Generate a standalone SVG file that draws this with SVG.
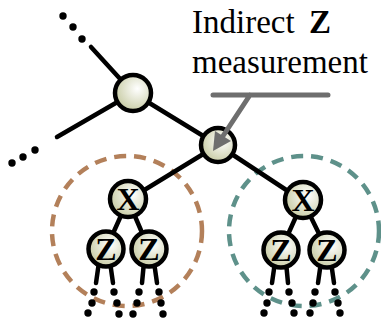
<svg xmlns="http://www.w3.org/2000/svg" width="381" height="325" viewBox="0 0 381 325">
<defs>
<radialGradient id="g" cx="0.62" cy="0.38" r="0.7">
<stop offset="0" stop-color="#ffffff"/>
<stop offset="1" stop-color="#c4c89e"/>
</radialGradient>
<style>
.e{stroke:#000;stroke-width:4.5;fill:none;stroke-linecap:round}
.n{fill:url(#g);stroke:#000;stroke-width:4.5}
.d{fill:#000}
.l{font-family:"Liberation Serif","Times New Roman",serif;font-weight:bold;font-size:32px;text-anchor:middle}
.t{font-family:"Liberation Serif","Times New Roman",serif;font-size:33px}
</style>
</defs>
<rect width="381" height="325" fill="#fff"/>
<g id="groups">
<circle cx="127" cy="231" r="75" fill="none" stroke="#b3805a" stroke-width="4.5" stroke-dasharray="12 8"/>
<circle cx="304" cy="231" r="75" fill="none" stroke="#5e918a" stroke-width="4.5" stroke-dasharray="12 8"/>
</g>
<g id="connectors">
<line class="e" x1="91" y1="47" x2="133" y2="93"/>
<line class="e" x1="57" y1="137" x2="133" y2="93"/>
<line class="e" x1="133" y1="93" x2="218" y2="145"/>
<line class="e" x1="218" y1="145" x2="128" y2="200"/>
<line class="e" x1="218" y1="145" x2="303" y2="201"/>
<line class="e" x1="128" y1="200" x2="106" y2="249"/>
<line class="e" x1="128" y1="200" x2="149" y2="249"/>
<line class="e" x1="303" y1="201" x2="281" y2="250"/>
<line class="e" x1="303" y1="201" x2="327" y2="250"/>
<line class="e" x1="99" y1="262" x2="96" y2="283"/>
<line class="e" x1="110" y1="262" x2="113" y2="283"/>
<line class="e" x1="144" y1="262" x2="142" y2="283"/>
<line class="e" x1="154" y1="262" x2="157" y2="283"/>
<line class="e" x1="275" y1="262" x2="272" y2="283"/>
<line class="e" x1="286" y1="262" x2="288" y2="283"/>
<line class="e" x1="321" y1="262" x2="318" y2="283"/>
<line class="e" x1="331" y1="262" x2="334" y2="283"/>
</g>
<g id="dots">
<circle class="d" cx="63" cy="16" r="3.7"/><circle class="d" cx="73" cy="27" r="3.7"/><circle class="d" cx="82" cy="39" r="3.7"/>
<circle class="d" cx="35" cy="150" r="3.7"/><circle class="d" cx="23" cy="157" r="3.7"/><circle class="d" cx="12" cy="163" r="3.7"/>
<circle class="d" cx="94" cy="292" r="3.7"/><circle class="d" cx="92" cy="303" r="3.7"/><circle class="d" cx="88" cy="313" r="3.7"/>
<circle class="d" cx="114" cy="292" r="3.7"/><circle class="d" cx="117" cy="303" r="3.7"/><circle class="d" cx="119" cy="314" r="3.7"/>
<circle class="d" cx="139" cy="292" r="3.7"/><circle class="d" cx="137" cy="303" r="3.7"/><circle class="d" cx="133" cy="314" r="3.7"/>
<circle class="d" cx="159" cy="292" r="3.7"/><circle class="d" cx="161" cy="303" r="3.7"/><circle class="d" cx="163" cy="314" r="3.7"/>
<circle class="d" cx="269" cy="292" r="3.7"/><circle class="d" cx="267" cy="303" r="3.7"/><circle class="d" cx="264" cy="313" r="3.7"/>
<circle class="d" cx="289" cy="292" r="3.7"/><circle class="d" cx="292" cy="303" r="3.7"/><circle class="d" cx="294" cy="313" r="3.7"/>
<circle class="d" cx="315" cy="292" r="3.7"/><circle class="d" cx="313" cy="303" r="3.7"/><circle class="d" cx="310" cy="313" r="3.7"/>
<circle class="d" cx="335" cy="292" r="3.7"/><circle class="d" cx="338" cy="303" r="3.7"/><circle class="d" cx="340" cy="313" r="3.7"/>
</g>
<g id="n-top"><circle class="n" cx="133" cy="93" r="18"/></g>
<g id="n-mid"><circle class="n" cx="218" cy="145" r="17"/></g>
<g id="n-x1"><circle class="n" cx="128" cy="199" r="18"/><text class="l" x="128" y="210">X</text></g>
<g id="n-z1"><circle class="n" cx="106" cy="249" r="17.5"/><text class="l" x="106" y="260">Z</text></g>
<g id="n-z2"><circle class="n" cx="149" cy="249" r="17.5"/><text class="l" x="149" y="260">Z</text></g>
<g id="n-x2"><circle class="n" cx="303" cy="200" r="18"/><text class="l" x="303" y="211">X</text></g>
<g id="n-z3"><circle class="n" cx="281" cy="250" r="17.5"/><text class="l" x="281" y="261">Z</text></g>
<g id="n-z4"><circle class="n" cx="327" cy="250" r="17.5"/><text class="l" x="327" y="261">Z</text></g>
<g id="annotation">
<path d="M213 95 H328 M250 95 L223 136" stroke="#6e6e6e" stroke-width="5" fill="none" stroke-linecap="round"/>
<polygon points="213,151 231,141 215,131" fill="#6e6e6e"/>
<text class="t" x="192" y="33">Indirect</text>
<text class="t" x="309" y="33" font-weight="bold">Z</text>
<text class="t" x="192" y="73">measurement</text>
</g>
</svg>
